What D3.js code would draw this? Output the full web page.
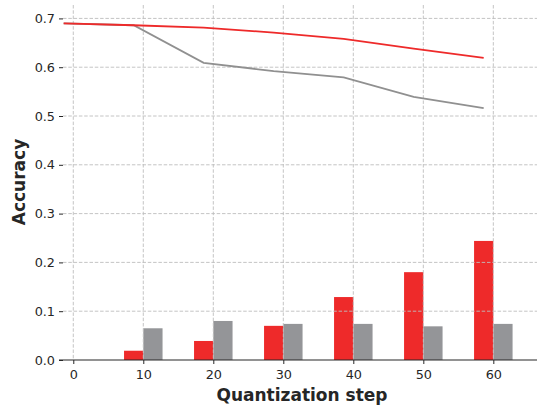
<!DOCTYPE html>
<html>
<head>
<meta charset="utf-8">
<script src="https://cdn.jsdelivr.net/npm/d3@7"></script>
<style>
  body { margin: 0; background: #fff; }
  text { font-family: "DejaVu Sans", sans-serif; fill: #262626; }
</style>
</head>
<body>
<script>
// quantization steps
var steps = [0, 10, 20, 30, 40, 50, 60];
// line series (accuracy)
var redLine = [0.690, 0.686, 0.681, 0.671, 0.658, 0.638, 0.619];
var grayLine = [0.690, 0.686, 0.609, 0.592, 0.579, 0.539, 0.516];
// bar series (no bars at step 0)
var barSteps = [10, 20, 30, 40, 50, 60];
var redBars = [0.019, 0.039, 0.070, 0.129, 0.180, 0.244];
var grayBars = [0.065, 0.080, 0.074, 0.074, 0.069, 0.074];
var yTicks = [0, 0.1, 0.2, 0.3, 0.4, 0.5, 0.6, 0.7];
var xTicks = [0, 10, 20, 30, 40, 50, 60];

var W = 537, H = 410;
var mLeft = 63, mRight = 537, mTop = 5, mBottom = 360;
var barW = 2.75;
var RED = '#ee2a2a', GRAY = '#949598', GRAYLINE = '#909090';

var svg = d3.select('body').append('svg')
    .attr('width', W)
    .attr('height', H);

var x = d3.scaleLinear().domain([-1.47, 66.24]).range([mLeft, mRight]);
var y = d3.scaleLinear().domain([0, 0.7275]).range([mBottom, mTop]);

// bars
var bars = svg.append('g');
bars.selectAll('rect.r').data(barSteps).enter().append('rect')
    .attr('x', function(d) { return x(d - barW); })
    .attr('width', function(d) { return x(d) - x(d - barW); })
    .attr('y', function(d, i) { return y(redBars[i]); })
    .attr('height', function(d, i) { return y(0) - y(redBars[i]); })
    .attr('fill', RED);
bars.selectAll('rect.g').data(barSteps).enter().append('rect')
    .attr('x', function(d) { return x(d); })
    .attr('width', function(d) { return x(d + barW) - x(d); })
    .attr('y', function(d, i) { return y(grayBars[i]); })
    .attr('height', function(d, i) { return y(0) - y(grayBars[i]); })
    .attr('fill', GRAY);

// grid on top of bars
var grid = svg.append('g')
    .attr('stroke', '#bdbdbd')
    .attr('stroke-width', 0.9)
    .attr('stroke-dasharray', '3.5,1.8');
grid.selectAll('line.h').data(yTicks.slice(1)).enter().append('line')
    .attr('x1', mLeft).attr('x2', mRight)
    .attr('y1', function(d) { return y(d); })
    .attr('y2', function(d) { return y(d); });
grid.selectAll('line.v').data(xTicks).enter().append('line')
    .attr('x1', function(d) { return x(d); })
    .attr('x2', function(d) { return x(d); })
    .attr('y1', mTop).attr('y2', mBottom);

// lines, drawn at the left bar position
var line = d3.line()
    .x(function(d, i) { return x(steps[i] - barW / 2); })
    .y(function(d) { return y(d); });
svg.append('path').datum(grayLine)
    .attr('d', line)
    .attr('fill', 'none')
    .attr('stroke', GRAYLINE)
    .attr('stroke-width', 1.8);
svg.append('path').datum(redLine)
    .attr('d', line)
    .attr('fill', 'none')
    .attr('stroke', RED)
    .attr('stroke-width', 1.8);

// axes
var xAxis = d3.axisBottom(x).tickValues(xTicks).tickSize(4).tickPadding(6)
    .tickFormat(d3.format('d'));
var gx = svg.append('g')
    .attr('transform', 'translate(0,' + mBottom + ')')
    .call(xAxis)
    .attr('font-size', 12.8)
    .attr('font-family', 'DejaVu Sans');
gx.select('.domain').attr('d', 'M' + (mLeft - 4) + ',0H' + mRight)
    .attr('stroke', '#262626').attr('stroke-width', 1.2);
gx.selectAll('.tick line').attr('stroke', '#262626');
gx.selectAll('.tick text').style('fill', '#262626');

var yAxis = d3.axisLeft(y).tickValues(yTicks).tickSize(4).tickPadding(4)
    .tickFormat(d3.format('.1f'));
var gy = svg.append('g')
    .attr('transform', 'translate(' + mLeft + ',0)')
    .call(yAxis)
    .attr('font-size', 12.8)
    .attr('font-family', 'DejaVu Sans');
gy.select('.domain').remove();
gy.selectAll('.tick line').attr('stroke', '#262626');
gy.selectAll('.tick text').style('fill', '#262626');

// axis titles
svg.append('text')
    .attr('x', 302).attr('y', 401)
    .attr('text-anchor', 'middle')
    .attr('font-size', 17)
    .attr('font-weight', 'bold')
    .text('Quantization step');
svg.append('text')
    .attr('transform', 'translate(25,182) rotate(-90)')
    .attr('text-anchor', 'middle')
    .attr('font-size', 17)
    .attr('font-weight', 'bold')
    .text('Accuracy');
</script>
</body>
</html>
